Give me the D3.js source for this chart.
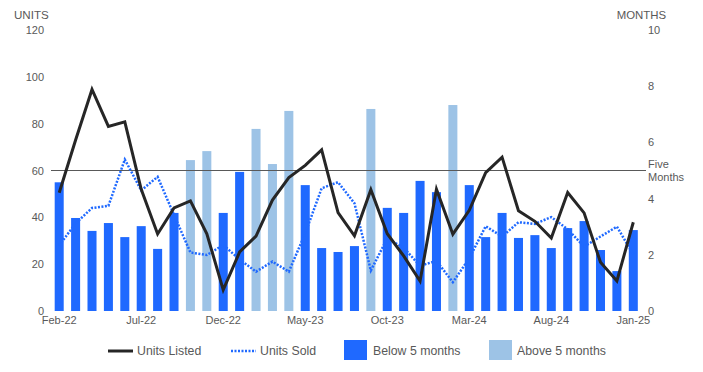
<!DOCTYPE html>
<html>
<head>
<meta charset="utf-8">
<script src="https://cdn.jsdelivr.net/npm/d3@7"></script>
<style>
  body { margin: 0; background: #fff; }
  text { font-family: "Liberation Sans", Arial, sans-serif; font-size: 11px; fill: #595959; }
</style>
</head>
<body>
<div id="chart-area"></div>
<script>
var months = ["Feb-22","Mar-22","Apr-22","May-22","Jun-22","Jul-22","Aug-22","Sep-22","Oct-22","Nov-22","Dec-22","Jan-23",
              "Feb-23","Mar-23","Apr-23","May-23","Jun-23","Jul-23","Aug-23","Sep-23","Oct-23","Nov-23","Dec-23","Jan-24",
              "Feb-24","Mar-24","Apr-24","May-24","Jun-24","Jul-24","Aug-24","Sep-24","Oct-24","Nov-24","Dec-24","Jan-25"];

// months of supply (right axis)
var supply = [4.58, 3.31, 2.85, 3.13, 2.63, 3.02, 2.21, 3.49, 5.37, 5.69, 3.49, 4.95,
              6.48, 5.23, 7.12, 4.48, 2.24, 2.10, 2.31, 7.19, 3.67, 3.49, 4.63, 4.23,
              7.33, 4.48, 2.63, 3.49, 2.60, 2.70, 2.24, 2.95, 3.20, 2.17, 1.42, 2.88];

var unitsListed = [50.5, 73, 94.6, 78.8, 80.8, 52, 32.9, 44, 47, 33, 9, 25.2,
                   32, 47.4, 57, 62.2, 68.8, 42, 32.1, 51.8, 33, 23.5, 12.8, 52,
                   32.8, 43, 59.1, 65.7, 42.8, 38.3, 31.2, 50.6, 41.9, 20.8, 12.8, 37.9];

var unitsSold = [28, 37.4, 44, 44.9, 64.7, 51.5, 57.3, 41, 25, 23.9, 28.2, 22,
                 16.8, 21.1, 16.8, 33.2, 52.4, 55, 46, 17.3, 31, 27, 19.3, 21.4,
                 12.3, 22.5, 36.2, 31.8, 37.9, 37.2, 40.1, 34.9, 27.5, 31.8, 36, 24.2];

var unitTicks = [0, 20, 40, 60, 80, 100, 120];
var monthTicks = [0, 2, 4, 6, 8, 10];
var xLabels = ["Feb-22", "Jul-22", "Dec-22", "May-23", "Oct-23", "Mar-24", "Aug-24", "Jan-25"];
var threshold = 5;

var width = 703, height = 372;
var svg = d3.select("#chart-area").append("svg")
            .attr("width", width)
            .attr("height", height);

var x = d3.scaleBand().domain(months).range([51, 641.5]).paddingInner(0.45).paddingOuter(0.225);
var yLeft = d3.scaleLinear().domain([0, 120]).range([311, 30]);
var yRight = d3.scaleLinear().domain([0, 10]).range([311, 30]);

var dark = "#1f69ff", light = "#9dc3e6";

// bars
svg.selectAll("rect.bar").data(supply).enter().append("rect")
    .attr("class", "bar")
    .attr("x", (d, i) => x(months[i]))
    .attr("width", x.bandwidth())
    .attr("y", d => yRight(d))
    .attr("height", d => yRight(0) - yRight(d))
    .attr("fill", d => d > threshold ? light : dark);

// five month line
svg.append("line")
    .attr("x1", 51).attr("x2", 646)
    .attr("y1", yRight(threshold)).attr("y2", yRight(threshold))
    .attr("stroke", "#595959").attr("stroke-width", 1.2);

var cx = (d, i) => x(months[i]) + x.bandwidth() / 2;

svg.append("path")
    .datum(unitsSold)
    .attr("fill", "none")
    .attr("stroke", dark)
    .attr("stroke-width", 2.5)
    .attr("stroke-dasharray", "2,1.5")
    .attr("d", d3.line().x(cx).y(d => yLeft(d)));

svg.append("path")
    .datum(unitsListed)
    .attr("fill", "none")
    .attr("stroke", "#262626")
    .attr("stroke-width", 3)
    .attr("stroke-linejoin", "miter")
    .attr("d", d3.line().x(cx).y(d => yLeft(d)));

// left axis
var leftAxis = svg.append("g").attr("transform", "translate(44,0)")
    .call(d3.axisLeft(yLeft).tickValues(unitTicks).tickSize(0).tickPadding(0));
leftAxis.select(".domain").remove();
leftAxis.selectAll("text").attr("fill", "#595959").style("font-size", "11px").style("font-family", "Liberation Sans, Arial, sans-serif");

// right axis
var rightAxis = svg.append("g").attr("transform", "translate(648,0)")
    .call(d3.axisRight(yRight).tickValues(monthTicks).tickSize(0).tickPadding(0));
rightAxis.select(".domain").remove();
rightAxis.selectAll("text").attr("fill", "#595959").style("font-size", "11px").style("font-family", "Liberation Sans, Arial, sans-serif");

// x axis
var bottomAxis = svg.append("g").attr("transform", "translate(0,311)")
    .call(d3.axisBottom(x).tickValues(xLabels).tickSize(0).tickPadding(5));
bottomAxis.select(".domain").remove();
bottomAxis.selectAll("text").attr("fill", "#595959").style("font-size", "11px").style("font-family", "Liberation Sans, Arial, sans-serif");

// axis titles
svg.append("text").attr("x", 14).attr("y", 19).style("font-size", "11.6px").text("UNITS");
svg.append("text").attr("x", 666).attr("y", 19).attr("text-anchor", "end").style("font-size", "11.4px").text("MONTHS");
svg.append("text").attr("x", 648).attr("y", 168).text("Five");
svg.append("text").attr("x", 648).attr("y", 181).text("Months");

// legend
var legend = svg.append("g").style("font-size", "12.3px");
legend.append("line").attr("x1", 108).attr("x2", 133).attr("y1", 351).attr("y2", 351)
    .attr("stroke", "#262626").attr("stroke-width", 3);
legend.append("text").attr("x", 137).attr("y", 355).style("font-size", "12.3px").text("Units Listed");
legend.append("line").attr("x1", 231).attr("x2", 256).attr("y1", 351).attr("y2", 351)
    .attr("stroke", dark).attr("stroke-width", 2.5).attr("stroke-dasharray", "2,1.5");
legend.append("text").attr("x", 260).attr("y", 355).style("font-size", "12.3px").text("Units Sold");
legend.append("rect").attr("x", 344).attr("y", 340).attr("width", 23).attr("height", 20).attr("fill", dark);
legend.append("text").attr("x", 373).attr("y", 355).style("font-size", "12.3px").text("Below 5 months");
legend.append("rect").attr("x", 489).attr("y", 340).attr("width", 23).attr("height", 20).attr("fill", light);
legend.append("text").attr("x", 517).attr("y", 355).style("font-size", "12.3px").text("Above 5 months");
</script>
</body>
</html>
